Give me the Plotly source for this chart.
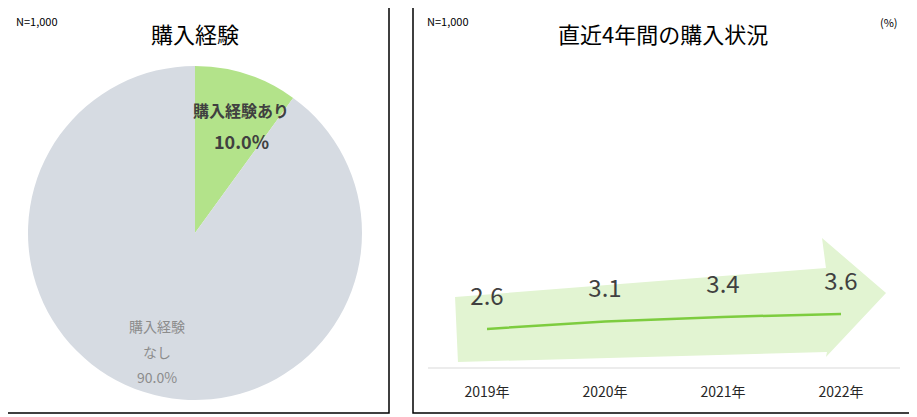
import plotly.graph_objects as go

W, H = 917, 417
OFF = 8  # page body margin offset

pie_labels = ["購入経験あり", "購入経験なし"]
pie_values = [10.0, 90.0]
pie_colors = ["#b3e38a", "#d6dbe2"]

years = ["2019年", "2020年", "2021年", "2022年"]
rates = [2.6, 3.1, 3.4, 3.6]

FONT = "Noto Sans CJK JP"


def px(x, y):
    return (x - OFF) / W, 1 - (y - OFF) / H


def fx(x):
    return (x - OFF) / W


def fy(y):
    return 1 - (y - OFF) / H


fig = go.Figure()

fig.add_trace(go.Pie(
    labels=pie_labels, values=pie_values, sort=False, direction="clockwise",
    rotation=0, marker=dict(colors=pie_colors), textinfo="none", hoverinfo="label+percent",
    domain=dict(x=[fx(28), fx(362)], y=[fy(400), fy(66)]), showlegend=False,
))

fig.add_trace(go.Scatter(
    x=years, y=rates, mode="lines",
    line=dict(color="#7dcc3f", width=2.5), showlegend=False,
))
fig.add_trace(go.Scatter(
    x=years, y=[v + 2.0 for v in rates], mode="text", text=[f"{v:.1f}" for v in rates],
    textfont=dict(size=24, color="#404040", family=FONT), showlegend=False, hoverinfo="skip",
))

# arrow behind the line
pts = [(455, 297), (826, 268), (822, 238), (886, 293), (826, 357), (827, 352), (458, 362)]
path = "M " + " L ".join(f"{px(x, y)[0]:.4f},{px(x, y)[1]:.4f}" for x, y in pts) + " Z"
shapes = [dict(type="path", path=path, xref="paper", yref="paper", layer="below",
               fillcolor="#e2f4d2", line=dict(width=0))]
for x0, x1 in [(2, 389), (413, 911)]:
    a, b = px(x0, 413), px(x1, 2)
    shapes.append(dict(type="rect", xref="paper", yref="paper", x0=a[0], y0=a[1], x1=b[0], y1=b[1],
                       line=dict(color="#000000", width=1.5)))
shapes.append(dict(type="line", xref="paper", yref="paper", x0=fx(428), x1=fx(900),
                   y0=fy(368), y1=fy(368), line=dict(color="#d9d9d9", width=1)))


def ann(x, y, text, size, color="#000000", bold=False, xanchor="center"):
    p = px(x, y)
    return dict(x=p[0], y=p[1], xref="paper", yref="paper", text=f"<b>{text}</b>" if bold else text,
                showarrow=False, xanchor=xanchor, yanchor="middle",
                font=dict(size=size, color=color, family=FONT))


annotations = [
    ann(14, 21, "N=1,000", 11, xanchor="left"),
    ann(195, 33, "購入経験", 22),
    ann(241, 110, "購入経験あり", 16, "#404040", True),
    ann(241, 141, "10.0%", 18, "#404040", True),
    ann(157, 326, "購入経験", 14, "#8c8c8c"),
    ann(157, 352, "なし", 14, "#8c8c8c"),
    ann(157, 377, "90.0%", 14, "#8c8c8c"),
    ann(425, 21, "N=1,000", 11, xanchor="left"),
    ann(663, 33, "直近4年間の購入状況", 22),
    ann(889, 22, "(%)", 11),
]

fig.update_layout(
    width=W, height=H, margin=dict(l=0, r=0, t=0, b=0),
    paper_bgcolor="white", plot_bgcolor="rgba(0,0,0,0)",
    font=dict(family=FONT),
    shapes=shapes, annotations=annotations,
    xaxis=dict(domain=[fx(428), fx(900)], range=[-0.5, 3.5], showgrid=False, zeroline=False,
               showline=False, tickfont=dict(size=14, color="#262626"), ticks="", ticklabelstandoff=14),
    yaxis=dict(domain=[fy(368), fy(60)], range=[0, 20.5], visible=False),
)

fig.write_html("out.html")
